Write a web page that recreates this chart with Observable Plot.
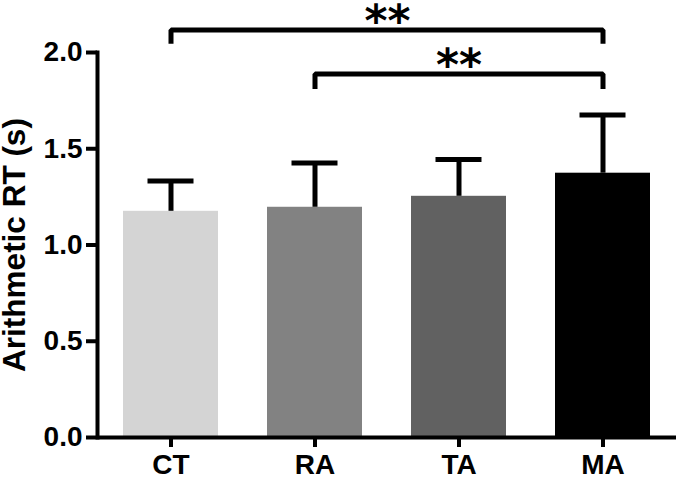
<!DOCTYPE html>
<html>
<head>
<meta charset="utf-8">
<script src="https://cdn.jsdelivr.net/npm/d3@7"></script>
<script src="https://cdn.jsdelivr.net/npm/@observablehq/plot@0.6"></script>
<style>
  html, body { margin: 0; padding: 0; background: #fff; }
  svg { display: block; }
</style>
</head>
<body>
<div id="chart"></div>
<script>
// ---- data ----
const groups = ["CT", "RA", "TA", "MA"];
const means = [1.175, 1.196, 1.253, 1.373];
const upper = [1.332, 1.426, 1.444, 1.675];          // mean + SD (error bar caps)
const colors = ["#d4d4d4", "#828282", "#616161", "#000000"];
const yTicks = [0, 0.5, 1.0, 1.5, 2.0];
const yLabel = "Arithmetic RT (s)";
const comparisons = [["CT", "MA"], ["RA", "MA"]];
const bracketTop = [2.117, 1.888];
const bracketFoot = [2.045, 1.811];
const sigLabels = ["**", "**"];

// ---- tables built from the arrays ----
const bars = groups.map((g, i) => ({group: g, mean: means[i], upper: upper[i]}));
const bracketPts = comparisons.flatMap(([a, b], i) => [
  {id: i, x: a, y: bracketFoot[i]},
  {id: i, x: a, y: bracketTop[i]},
  {id: i, x: b, y: bracketTop[i]},
  {id: i, x: b, y: bracketFoot[i]}
]);

const W = 677, H = 480;
const mL = 97, mR = 1, mT = 52, mB = 43;
const padIn = 0.337, padOut = 0.168;
// mirror of the band layout to find half-way points between bands
const band = d3.scaleBand().domain(groups).range([mL, W - mR]).paddingInner(padIn).paddingOuter(padOut);
const sigs = comparisons.map(([a, b], i) => {
  const ia = groups.indexOf(a), ib = groups.indexOf(b);
  const mid = (ia + ib) / 2;
  const anchor = groups[Math.floor(mid)];
  return {x: anchor, y: bracketTop[i], label: sigLabels[i], shift: (mid - Math.floor(mid)) * band.step()};
});

const font = "Liberation Sans, Arial, Helvetica, sans-serif";

const plot = Plot.plot({
  width: W,
  height: H,
  marginLeft: mL,
  marginRight: mR,
  marginTop: mT,
  marginBottom: mB,
  style: {fontFamily: font, background: "#fff", color: "#000", overflow: "visible"},
  x: {domain: groups, paddingInner: padIn, paddingOuter: padOut, label: null},
  y: {domain: [0, 2], label: null},
  color: {domain: groups, range: colors},
  marks: [
    Plot.barY(bars, {x: "group", y: "mean", fill: "group"}),
    Plot.ruleX(bars, {x: "group", y1: "mean", y2: "upper", stroke: "#000", strokeWidth: 5}),
    Plot.tickY(bars, {x: "group", y: "upper", stroke: "#000", strokeWidth: 5, insetLeft: 24.5, insetRight: 24.5}),
    Plot.ruleY([0], {stroke: "#000", strokeWidth: 4}),
    Plot.frame({anchor: "left", stroke: "#000", strokeWidth: 4}),
    Plot.axisY({
      ticks: yTicks, tickSize: 11, tickPadding: 4, strokeWidth: 4,
      tickFormat: d3.format(".1f"), fontSize: 28, fontWeight: "bold", label: null
    }),
    Plot.axisX({
      tickSize: 10, tickPadding: 7, strokeWidth: 4,
      fontSize: 28, fontWeight: "bold", label: null
    }),
    Plot.text([yLabel], {
      frameAnchor: "left", textAnchor: "middle", dx: -83, rotate: -90,
      fontSize: 31.5, fontWeight: "bold", fill: "#000"
    }),
    Plot.line(bracketPts, {
      x: "x", y: "y", z: "id", stroke: "#000", strokeWidth: 5,
      strokeLinejoin: "miter", strokeLinecap: "butt", curve: "linear"
    }),
    ...sigs.map((s) => Plot.text([s], {
      x: "x", y: "y", text: "label", dx: s.shift, lineAnchor: "bottom", dy: 6,
      textAnchor: "middle", fontSize: 44, fontWeight: "bold", fontFamily: "DejaVu Sans", fill: "#000"
    }))
  ]
});
document.getElementById("chart").appendChild(plot);
</script>
</body>
</html>
